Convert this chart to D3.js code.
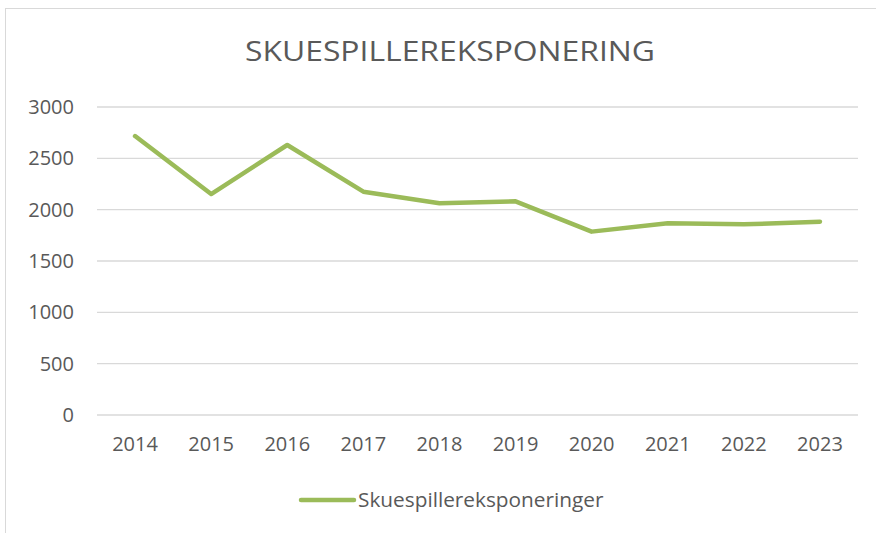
<!DOCTYPE html>
<html>
<head>
<meta charset="utf-8">
<script src="https://cdn.jsdelivr.net/npm/d3@7"></script>
<style>
  body { margin: 0; background: #fff; }
  text { font-family: "Open Sans", Lato, sans-serif; fill: #595959; }
</style>
</head>
<body>
<div id="chart"></div>
<script>
// data
const years  = ["2014","2015","2016","2017","2018","2019","2020","2021","2022","2023"];
const values = [2717, 2152, 2630, 2175, 2062, 2081, 1786, 1867, 1857, 1883];
const yTicks = [0, 500, 1000, 1500, 2000, 2500, 3000];
const seriesName = "Skuespillereksponeringer";
const title = "SKUESPILLEREKSPONERING";

const W = 876, H = 533;
const PLOT = { LEFT: 97, RIGHT: 858, TOP: 107, BOTTOM: 415 };

const svg = d3.select("#chart").append("svg")
  .attr("width", W).attr("height", H);

// chart frame
svg.append("rect")
  .attr("x", 5.5).attr("y", 8.5)
  .attr("width", W + 10).attr("height", H + 10)
  .attr("fill", "none").attr("stroke", "#d9d9d9");

svg.append("text")
  .attr("x", 450).attr("y", 61)
  .attr("text-anchor", "middle")
  .style("font-size", "28px")
  .attr("textLength", 410)
  .attr("lengthAdjust", "spacingAndGlyphs")
  .text(title);

const x = d3.scaleBand().domain(years).range([PLOT.LEFT, PLOT.RIGHT]);
const y = d3.scaleLinear().domain([0, 3000]).range([PLOT.BOTTOM, PLOT.TOP]);

// gridlines
svg.append("g").selectAll("line")
  .data(yTicks).enter().append("line")
  .attr("x1", PLOT.LEFT).attr("x2", PLOT.RIGHT)
  .attr("y1", d => y(d)).attr("y2", d => y(d))
  .attr("stroke", "#d9d9d9").attr("stroke-width", 1.3);

// y axis labels
const yAxis = svg.append("g")
  .attr("transform", `translate(${PLOT.LEFT - 23},0)`)
  .call(d3.axisLeft(y).tickValues(yTicks).tickFormat(d3.format("d")).tickSize(0).tickPadding(0));
yAxis.select(".domain").remove();
yAxis.selectAll("text").style("font-size", "20px").attr("fill", "#595959");

// x axis labels
const xAxis = svg.append("g")
  .attr("transform", `translate(0,${PLOT.BOTTOM + 20})`)
  .call(d3.axisBottom(x).tickSize(0).tickPadding(2));
xAxis.select(".domain").remove();
xAxis.selectAll("text").style("font-size", "20px").attr("fill", "#595959");

// the line
const line = d3.line()
  .x((d, i) => x(years[i]) + x.bandwidth() / 2)
  .y(d => y(d));

svg.append("path")
  .datum(values)
  .attr("d", line)
  .attr("fill", "none")
  .attr("stroke", "#9bbb59")
  .attr("stroke-width", 4.5)
  .attr("stroke-linejoin", "round")
  .attr("stroke-linecap", "round");

// legend
const leg = svg.append("g").attr("transform", "translate(301,500)");
leg.append("line")
  .attr("x1", 0).attr("x2", 53)
  .attr("stroke", "#9bbb59").attr("stroke-width", 4.5)
  .attr("stroke-linecap", "round");
leg.append("text")
  .attr("x", 57).attr("dy", "0.35em")
  .style("font-size", "20.8px")
  .text(seriesName);
</script>
</body>
</html>
